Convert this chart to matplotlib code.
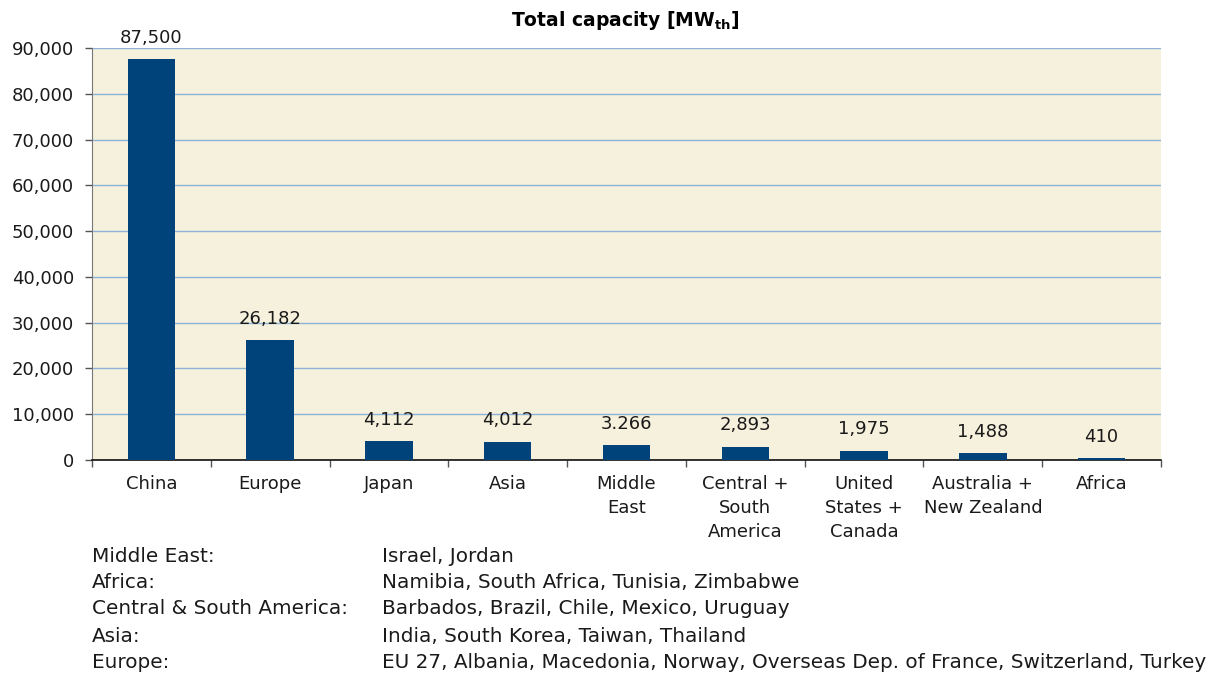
import matplotlib
matplotlib.use("Agg")
import matplotlib.pyplot as plt
from matplotlib.ticker import FuncFormatter, FixedLocator

regions = ["China", "Europe", "Japan", "Asia", "Middle\nEast", "Central +\nSouth\nAmerica",
           "United\nStates +\nCanada", "Australia +\nNew Zealand", "Africa"]
capacity = [87500, 26182, 4112, 4012, 3266, 2893, 1975, 1488, 410]
value_labels = ["87,500", "26,182", "4,112", "4,012", "3.266", "2,893", "1,975", "1,488", "410"]
y_ticks = [0, 10000, 20000, 30000, 40000, 50000, 60000, 70000, 80000, 90000]

note_regions = ["Middle East:", "Africa:", "Central & South America:", "Asia:", "Europe:"]
note_countries = ["Israel, Jordan",
                  "Namibia, South Africa, Tunisia, Zimbabwe",
                  "Barbados, Brazil, Chile, Mexico, Uruguay",
                  "India, South Korea, Taiwan, Thailand",
                  "EU 27, Albania, Macedonia, Norway, Overseas Dep. of France, Switzerland, Turkey"]

plt.rcParams["font.family"] = ["DejaVu Sans"]
plt.rcParams["mathtext.fontset"] = "dejavusans"

W, H = 1228, 675
fig = plt.figure(figsize=(W / 100, H / 100), dpi=100)
ax = fig.add_axes([92 / W, 1 - 460 / H, (1161 - 92) / W, (460 - 48) / H])

bar_color = "#00437a"
txt_color = "#1a1a1a"
ax.set_facecolor("#f6f1dc")
x = list(range(len(regions)))
bars = ax.bar(x, capacity, width=0.4, color=bar_color, zorder=3)

ax.set_xlim(-0.5, len(regions) - 0.5)
ax.set_ylim(0, 90000)
ax.set_yticks(y_ticks)
ax.yaxis.set_major_formatter(FuncFormatter(lambda v, p: f"{int(v):,}"))
ax.grid(axis="y", color="#8db3d8", linewidth=1.0, zorder=1)
ax.set_axisbelow(True)

# category boundary ticks on the x axis, labels centred between them
ax.xaxis.set_major_locator(FixedLocator([i - 0.5 for i in range(len(regions) + 1)]))
ax.xaxis.set_major_formatter(FuncFormatter(lambda v, p: ""))
ax.xaxis.set_minor_locator(FixedLocator(x))
ax.set_xticklabels(regions, minor=True)
ax.tick_params(axis="x", which="minor", length=0, pad=11, labelsize=13, colors=txt_color)
ax.tick_params(axis="x", which="major", length=5, width=1, color="#555555", direction="out")
for lbl in ax.get_xticklabels(minor=True):
    lbl.set_verticalalignment("top")
    lbl.set_linespacing(1.42)
ax.tick_params(axis="y", length=5, width=1, color="#555555", labelsize=13, labelcolor=txt_color, pad=8)

for side in ["top", "right"]:
    ax.spines[side].set_visible(False)
ax.spines["left"].set_color("#777777")
ax.spines["bottom"].set_color("#111111")
ax.spines["bottom"].set_linewidth(1.2)

for rect, txt in zip(bars, value_labels):
    ax.annotate(txt, (rect.get_x() + rect.get_width() / 2, rect.get_height()),
                xytext=(0, 9), textcoords="offset points", ha="center", va="bottom",
                fontsize=13, color=txt_color, clip_on=False)

fig.text(625 / W, 1 - 21 / H, r"Total capacity [MW$_{\mathbf{th}}$]", ha="center", va="center",
         fontsize=13.5, fontweight="bold", color="#000000")

row_y = [557, 583, 609, 636, 662]
for yy, name, countries in zip(row_y, note_regions, note_countries):
    fig.text(92 / W, 1 - yy / H, name, ha="left", va="center", fontsize=14.4, color=txt_color)
    fig.text(382 / W, 1 - yy / H, countries, ha="left", va="center", fontsize=14.4, color=txt_color)

fig.savefig("out.png", dpi=100, facecolor="white")
